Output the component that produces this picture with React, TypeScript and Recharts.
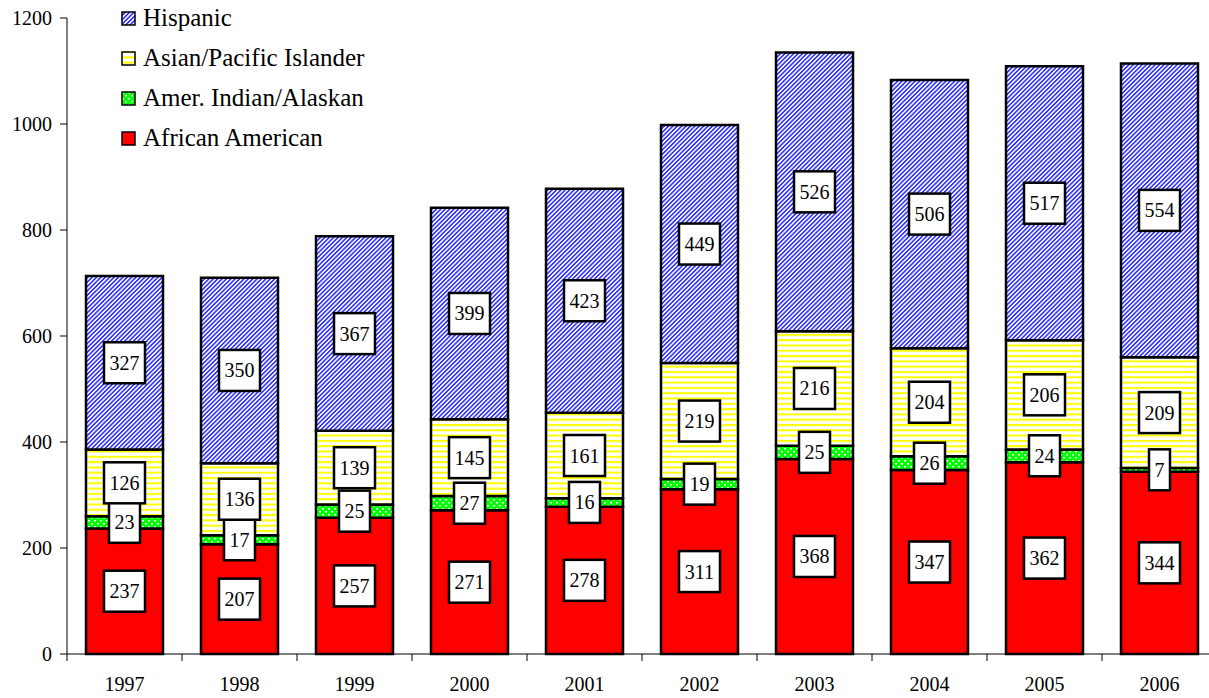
import { Bar, BarChart, LabelList, XAxis, YAxis } from "recharts"

const years = ["1997", "1998", "1999", "2000", "2001", "2002", "2003", "2004", "2005", "2006"]
const africanAmerican = [237, 207, 257, 271, 278, 311, 368, 347, 362, 344]
const amerIndian = [23, 17, 25, 27, 16, 19, 25, 26, 24, 7]
const asianPacific = [126, 136, 139, 145, 161, 219, 216, 204, 206, 209]
const hispanic = [327, 350, 367, 399, 423, 449, 526, 506, 517, 554]
const yTicks = [0, 200, 400, 600, 800, 1000, 1200]

const data = years.map((year, i) => ({
  year,
  african: africanAmerican[i],
  indian: amerIndian[i],
  asian: asianPacific[i],
  hispanic: hispanic[i],
}))

const legendItems = [
  { name: "Hispanic", fill: "url(#patHispanic)" },
  { name: "Asian/Pacific Islander", fill: "url(#patAsian)" },
  { name: "Amer. Indian/Alaskan", fill: "url(#patIndian)" },
  { name: "African American", fill: "#ff0000" },
]

const FONT = "Liberation Serif"
const BAND = 115

const ValueBox = (props: any) => {
  const { x, y, width, height, value } = props
  const cx = x + width / 2
  const cy = y + height / 2
  const w = String(value).length * 10 + 11
  return (
    <g>
      <rect x={cx - w / 2} y={cy - 20.5} width={w} height={41} fill="#fff" stroke="#000" strokeWidth={2.5} />
      <text x={cx} y={cy + 7} textAnchor="middle" style={{ fontFamily: FONT }} fontSize={20} fill="#000">
        {value}
      </text>
    </g>
  )
}

const YearTick = (props: any) => {
  const { x, y, payload } = props
  return (
    <g>
      <line x1={x - BAND / 2} y1={y} x2={x - BAND / 2} y2={y + 7} stroke="#000" strokeWidth={1} />
      <text x={x} y={y + 37} textAnchor="middle" style={{ fontFamily: FONT }} fontSize={20} fill="#000">
        {payload.value}
      </text>
    </g>
  )
}

const LegendBox = () => (
  <div style={{ position: "absolute", left: 121, top: -2, fontFamily: FONT, fontSize: 25, color: "#000" }}>
    {legendItems.map((item) => (
      <div key={item.name} style={{ display: "flex", alignItems: "center", height: 40 }}>
        <svg width={15} height={15} style={{ marginRight: 7 }}>
          <rect x={1} y={1} width={13} height={13} fill={item.fill} stroke="#000" strokeWidth={1.5} />
        </svg>
        <span>{item.name}</span>
      </div>
    ))}
  </div>
)

export default function App() {
  return (
    <div style={{ position: "fixed", left: 0, top: 0, width: 1209, height: 698, overflow: "hidden", background: "#fff" }}>
      <BarChart width={1220} height={698} data={data} margin={{ top: 18, right: 3, left: 0, bottom: 0 }} barSize={77}>
        <defs>
          <pattern id="patHispanic" width={3.1} height={3.1} patternUnits="userSpaceOnUse" patternTransform="rotate(45)">
            <rect width={3.1} height={3.1} fill="#fff" />
            <rect width={1.6} height={3.1} fill="#3333ff" />
          </pattern>
          <pattern id="patAsian" width={5.3} height={5.3} patternUnits="userSpaceOnUse">
            <rect width={5.3} height={5.3} fill="#fff" />
            <rect width={5.3} height={2} fill="#ffff00" />
          </pattern>
          <pattern id="patIndian" width={6} height={6} patternUnits="userSpaceOnUse">
            <rect width={6} height={6} fill="#00ff00" />
            <rect x={1} y={1} width={2} height={1.5} fill="#fff" />
            <rect x={4} y={4} width={2} height={1.5} fill="#fff" />
          </pattern>
        </defs>
        <XAxis
          dataKey="year"
          height={44}
          tickLine={false}
          tickSize={0}
          tickMargin={0}
          stroke="#000"
          tick={<YearTick />}
          interval={0}
        />
        <YAxis
          width={67}
          domain={[0, 1200]}
          ticks={yTicks}
          stroke="#000"
          tickSize={7}
          tickMargin={8}
          tick={{ fontSize: 20, fill: "#000", style: { fontFamily: FONT } }}
          interval={0}
        />
        <Bar dataKey="african" stackId="a" fill="#ff0000" stroke="#000" strokeWidth={2.5} isAnimationActive={false}>
          <LabelList dataKey="african" content={<ValueBox />} />
        </Bar>
        <Bar dataKey="indian" stackId="a" fill="url(#patIndian)" stroke="#000" strokeWidth={2.5} isAnimationActive={false}>
          <LabelList dataKey="indian" content={<ValueBox />} />
        </Bar>
        <Bar dataKey="asian" stackId="a" fill="url(#patAsian)" stroke="#000" strokeWidth={2.5} isAnimationActive={false}>
          <LabelList dataKey="asian" content={<ValueBox />} />
        </Bar>
        <Bar dataKey="hispanic" stackId="a" fill="url(#patHispanic)" stroke="#000" strokeWidth={2.5} isAnimationActive={false}>
          <LabelList dataKey="hispanic" content={<ValueBox />} />
        </Bar>
      </BarChart>
      <LegendBox />
    </div>
  )
}
